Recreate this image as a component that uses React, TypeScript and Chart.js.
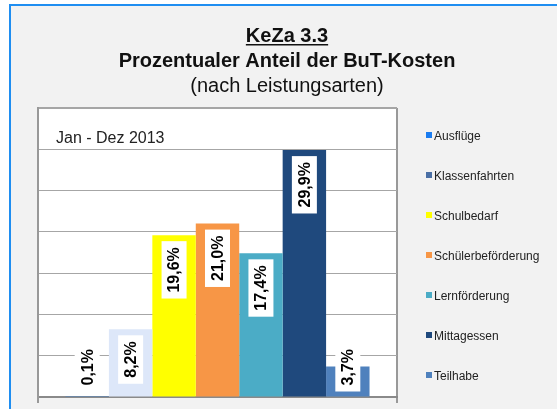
import React, { useEffect, useRef } from 'react';
import { Chart, registerables } from 'chart.js';

Chart.register(...registerables);

const categories = ['Ausflüge', 'Klassenfahrten', 'Schulbedarf', 'Schülerbeförderung', 'Lernförderung', 'Mittagessen', 'Teilhabe'];
const values = [0.1, 8.2, 19.6, 21.0, 17.4, 29.9, 3.7];
const valueLabels = ['0,1%', '8,2%', '19,6%', '21,0%', '17,4%', '29,9%', '3,7%'];
const barColors = ['#1a7cf0', '#dde7f9', '#ffff00', '#f79646', '#4bacc6', '#1f497d', '#4f81bd'];
const legendColors = ['#1a7cf0', '#4a6fa5', '#ffff00', '#f79646', '#4bacc6', '#1f497d', '#4f81bd'];
const titleLines = ['KeZa 3.3', 'Prozentualer Anteil der BuT-Kosten', '(nach Leistungsarten)'];
const periodLabel = 'Jan - Dez 2013';
const yMin = 0;
const yMax = 35;
const yStep = 5;

const FONT = '"Liberation Sans", Arial, Helvetica, sans-serif';

const backgroundPlugin = {
  id: 'bg',
  beforeDraw(chart: any) {
    const { ctx, width, height, chartArea } = chart;
    ctx.save();
    ctx.fillStyle = '#ffffff';
    ctx.fillRect(0, 0, width, height);
    ctx.fillStyle = '#f2f2f2';
    ctx.fillRect(10, 5, width - 10, height - 5);
    ctx.fillStyle = '#1f8ef1';
    ctx.fillRect(9, 4, width - 9, 2);
    ctx.fillRect(9, 4, 2, height - 4);
    ctx.fillStyle = '#ffffff';
    ctx.fillRect(chartArea.left, chartArea.top, chartArea.right - chartArea.left, chartArea.bottom - chartArea.top);
    ctx.restore();
  },
};

const textPlugin = {
  id: 'texts',
  afterDraw(chart: any) {
    const { ctx, chartArea } = chart;
    ctx.save();
    const cx = 287;
    ctx.fillStyle = '#111';
    ctx.textAlign = 'center';
    ctx.textBaseline = 'alphabetic';
    ctx.font = 'bold 20px ' + FONT;
    ctx.fillText(titleLines[0], cx, 42);
    const w0 = ctx.measureText(titleLines[0]).width;
    ctx.fillRect(cx - w0 / 2, 44, w0, 1.5);
    ctx.fillText(titleLines[1], cx, 67);
    ctx.font = '20px ' + FONT;
    ctx.fillText(titleLines[2], cx, 92);

    ctx.textAlign = 'left';
    ctx.font = '16px ' + FONT;
    ctx.fillStyle = '#222';
    ctx.fillText(periodLabel, chartArea.left + 18, 143);

    // legend
    ctx.font = '12px ' + FONT;
    categories.forEach((c, i) => {
      const cy = 135 + i * 40;
      ctx.fillStyle = legendColors[i];
      ctx.fillRect(426, cy - 3, 6, 6);
      ctx.fillStyle = '#222';
      ctx.fillText(c, 434, cy + 4.5);
    });
    ctx.restore();
  },
};

const labelPlugin = {
  id: 'barLabels',
  afterDatasetsDraw(chart: any) {
    const ctx = chart.ctx;
    ctx.save();
    ctx.font = 'bold 16px ' + FONT;
    chart.data.datasets.forEach((_ds: any, i: number) => {
      const meta = chart.getDatasetMeta(i);
      const bar = meta.data[0];
      const { x, y, base } = bar.getProps(['x', 'y', 'base'], true);
      const text = valueLabels[i];
      const w = ctx.measureText(text).width;
      const L = w + 12;
      const T = 25;
      const top = Math.min(y + 6, base - 5 - L);
      const cy = top + L / 2;
      ctx.save();
      ctx.translate(x, cy);
      ctx.rotate(-Math.PI / 2);
      ctx.fillStyle = '#ffffff';
      ctx.fillRect(-L / 2, -T / 2, L, T);
      ctx.fillStyle = '#000';
      ctx.textAlign = 'center';
      ctx.textBaseline = 'middle';
      ctx.fillText(text, 0, 1);
      ctx.restore();
    });
    ctx.restore();
  },
};

export default function App() {
  const ref = useRef<HTMLCanvasElement>(null);
  useEffect(() => {
    if (!ref.current) return;
    const chart = new Chart(ref.current, {
      type: 'bar',
      data: {
        labels: [''],
        datasets: categories.map((c, i) => ({
          label: c,
          data: [values[i]],
          backgroundColor: barColors[i],
          borderWidth: 0,
          categoryPercentage: 0.847,
          barPercentage: 1,
        })),
      },
      options: {
        responsive: false,
        animation: false,
        events: [],
        layout: { padding: { left: 38, right: 160, top: 108, bottom: 6 } },
        plugins: {
          legend: { display: false },
          title: { display: false },
          tooltip: { enabled: false },
        },
        scales: {
          x: {
            type: 'category',
            offset: true,
            ticks: { display: false },
            grid: {
              offset: true,
              drawOnChartArea: true,
              drawTicks: true,
              tickLength: 6,
              color: '#999999',
              lineWidth: 2,
            },
            border: { display: true, color: '#8a8a8a', width: 2 },
          },
          y: {
            min: yMin,
            max: yMax,
            ticks: { display: false, stepSize: yStep },
            grid: {
              drawTicks: false,
              color: '#a6a6a6',
              lineWidth: (c: any) => (c.tick && c.tick.value === yMax ? 2 : 1),
            },
            border: { display: true, color: '#999999', width: 2 },
          },
        },
      },
      plugins: [backgroundPlugin, labelPlugin, textPlugin],
    } as any);
    return () => chart.destroy();
  }, []);
  return (
    <div style={{ position: 'fixed', left: 0, top: 0, width: 557, height: 409 }}>
      <canvas ref={ref} width={557} height={409} style={{ display: 'block' }} />
    </div>
  );
}
